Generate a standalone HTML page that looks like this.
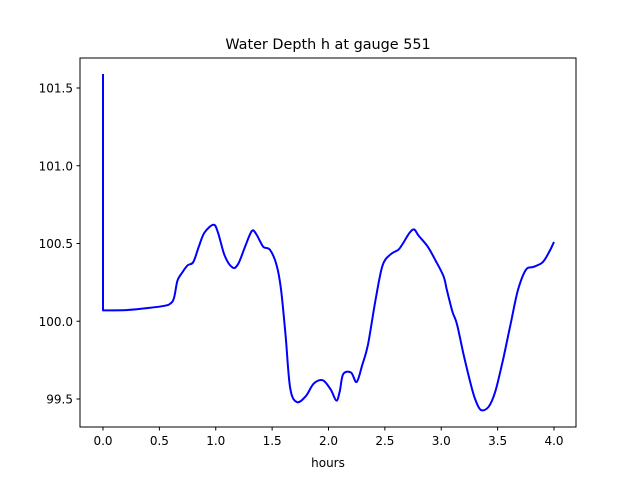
<!DOCTYPE html>
<html><head><meta charset="utf-8"><style>
body{margin:0;background:#fff}
svg text{font-family:"DejaVu Sans","Liberation Sans",sans-serif;fill:#000}
</style></head><body>
<svg width="640" height="480" viewBox="0 0 640 480" xmlns="http://www.w3.org/2000/svg">
<rect x="0" y="0" width="640" height="480" fill="#fff"/>
<text x="328" y="49" font-size="14.4" text-anchor="middle">Water Depth h at gauge 551</text>
<g id="ticks"></g>
<path id="series" fill="none" stroke="#0000ff" stroke-width="2" stroke-linejoin="round"/>
<rect x="80" y="58" width="496" height="369" fill="none" stroke="#000" stroke-width="1"/>
<text x="328" y="467" font-size="12" text-anchor="middle">hours</text>
</svg>
<script>
const times=[0,0,0.2,0.4,0.55,0.6,0.63,0.66,0.7,0.75,0.8,0.85,0.9,0.98,1.02,1.08,1.15,1.2,1.26,1.32,1.36,1.42,1.48,1.54,1.58,1.62,1.66,1.72,1.8,1.87,1.95,2.02,2.07,2.1,2.13,2.2,2.25,2.3,2.35,2.42,2.48,2.55,2.62,2.66,2.72,2.76,2.8,2.88,2.95,3.02,3.05,3.1,3.14,3.2,3.26,3.3,3.35,3.42,3.48,3.55,3.62,3.68,3.75,3.82,3.9,3.96,4.0];
const depths=[101.59,100.07,100.072,100.085,100.1,100.115,100.15,100.26,100.31,100.36,100.38,100.48,100.57,100.62,100.57,100.42,100.345,100.37,100.48,100.58,100.56,100.48,100.46,100.36,100.2,99.9,99.57,99.48,99.52,99.6,99.62,99.56,99.49,99.55,99.66,99.67,99.61,99.72,99.85,100.15,100.36,100.43,100.46,100.5,100.57,100.59,100.55,100.48,100.39,100.29,100.2,100.06,99.98,99.78,99.6,99.5,99.43,99.45,99.55,99.76,100.0,100.2,100.33,100.35,100.38,100.45,100.51];
const xTicks=[0,0.5,1,1.5,2,2.5,3,3.5,4];
const xTickLabels=["0.0","0.5","1.0","1.5","2.0","2.5","3.0","3.5","4.0"];
const yTicks=[99.5,100,100.5,101,101.5];
const yTickLabels=["99.5","100.0","100.5","101.0","101.5"];
const X=t=>103+t*112.75;
const Y=v=>399-(v-99.5)*155.5;
const ns="http://www.w3.org/2000/svg";
const g=document.getElementById('ticks');
xTicks.forEach((t,i)=>{
 const l=document.createElementNS(ns,'line');
 
 
 l.setAttribute('x1',X(t));l.setAttribute('x2',X(t));l.setAttribute('y1',427);l.setAttribute('y2',430.5);l.setAttribute('stroke','#000');
 g.appendChild(l);
 const tx=document.createElementNS(ns,'text');
 
 
 tx.setAttribute('x',X(t));tx.setAttribute('y',445);tx.setAttribute('font-size','12');tx.setAttribute('text-anchor','middle');
 tx.textContent=xTickLabels[i];g.appendChild(tx);
});
yTicks.forEach((v,i)=>{
 const l=document.createElementNS(ns,'line');
 
 
 l.setAttribute('x1',76.5);l.setAttribute('x2',80);l.setAttribute('y1',Y(v));l.setAttribute('y2',Y(v));l.setAttribute('stroke','#000');
 g.appendChild(l);
 const tx=document.createElementNS(ns,'text');
 
 
 tx.setAttribute('x',73);tx.setAttribute('y',Y(v)+4.5);tx.setAttribute('font-size','12');tx.setAttribute('text-anchor','end');
 tx.textContent=yTickLabels[i];g.appendChild(tx);
});
const P=times.map((t,i)=>[X(t),Y(depths[i])]);
let d='M'+P[0][0].toFixed(1)+','+P[0][1].toFixed(1)+' L'+P[1][0].toFixed(1)+','+P[1][1].toFixed(1);
for(let i=1;i<P.length-1;i++){
 const p0=P[i===1?1:i-1],p1=P[i],p2=P[i+1],p3=P[Math.min(i+2,P.length-1)];
 const c1=[p1[0]+(p2[0]-p0[0])/6,p1[1]+(p2[1]-p0[1])/6];
 const c2=[p2[0]-(p3[0]-p1[0])/6,p2[1]-(p3[1]-p1[1])/6];
 d+=' C'+c1[0].toFixed(1)+','+c1[1].toFixed(1)+' '+c2[0].toFixed(1)+','+c2[1].toFixed(1)+' '+p2[0].toFixed(1)+','+p2[1].toFixed(1);
}
document.getElementById('series').setAttribute('d',d);
</script>
</body></html>
